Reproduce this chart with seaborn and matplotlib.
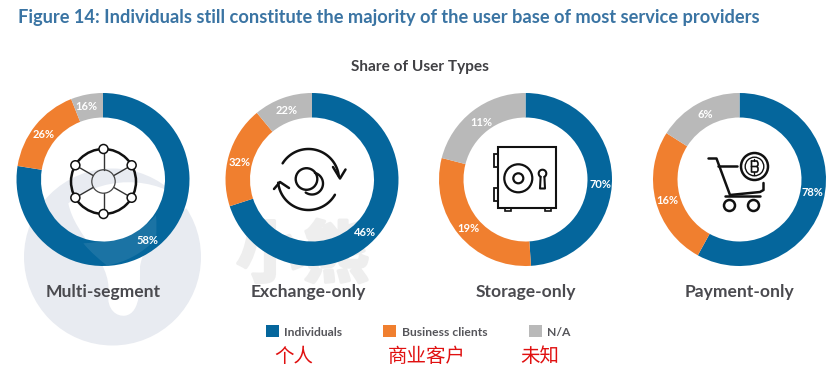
import numpy as np
import matplotlib
matplotlib.use("Agg")
import matplotlib.pyplot as plt
import matplotlib.patheffects as pe
from matplotlib.patches import Circle, Rectangle, PathPatch
from matplotlib.path import Path
import seaborn as sns

# ---- data: categories, drawn shares (as the rings actually appear), printed labels
categories = ["Multi-segment", "Exchange-only", "Storage-only", "Payment-only"]
series_names = ["Individuals", "Business clients", "N/A"]
series_names_zh = ["个人", "商业客户", "未知"]
individuals = [77.5, 70, 49, 58]
business = [16.5, 19, 30, 26]
na_share = [6, 11, 21, 16]
label_individuals = ["58%", "46%", "70%", "78%"]
label_business = ["26%", "32%", "19%", "16%"]
label_na = ["16%", "22%", "11%", "6%"]
title_text = "Figure 14: Individuals still constitute the majority of the user base of most service providers"
subtitle_text = "Share of User Types"

W, H = 835, 371
BLUE, ORANGE, GREY = "#05669c", "#f07f2f", "#b9b9b9"
INK = "#111111"

sns.set_theme(style="white")
plt.rcParams["font.family"] = ["Lato", "Noto Sans CJK SC", "DejaVu Sans"]
palette = sns.color_palette([BLUE, ORANGE, GREY])

fig = plt.figure(figsize=(W / 100, H / 100), dpi=100, facecolor="white")
ax = fig.add_axes([0, 0, 1, 1])


def Y(y):
    return H - y


def line(pts, lw=1.7, color=INK, z=6):
    xs, ys = zip(*pts)
    ax.plot(xs, [Y(v) for v in ys], color=color, lw=lw, solid_capstyle="round",
            solid_joinstyle="round", zorder=z)


def ring(cx, cy, r, lw=1.7, fc="none", ec=INK, z=6):
    ax.add_patch(Circle((cx, Y(cy)), r, fc=fc, ec=ec, lw=lw, zorder=z))


def arc(cx, cy, r, a0, a1, lw=1.7):
    t = np.radians(np.linspace(a0, a1, 60))
    line(list(zip(cx + r * np.cos(t), cy - r * np.sin(t))), lw=lw)


def blob(pts, fc, alpha=1.0, z=1):
    p = [(x, Y(y)) for x, y in pts]
    codes = [Path.MOVETO] + [Path.CURVE4] * (len(p) - 1)
    ax.add_patch(PathPatch(Path(p, codes), fc=fc, ec="none", alpha=alpha, zorder=z))


def z7(x, y):
    return (x / 3, 160 + y / 3)


# ---- watermark behind the rings
ax.add_patch(Circle((112.5, Y(257)), 88.5, fc="#e8ebf1", ec="none", zorder=0))
blob([z7(205, 130), z7(225, 230), z7(335, 300), z7(325, 400),
      z7(320, 450), z7(350, 470), z7(375, 467),
      z7(425, 460), z7(420, 370), z7(420, 320),
      z7(430, 250), z7(500, 170), z7(570, 140),
      z7(500, 60), z7(330, 30), z7(205, 130)], "white", z=1)
ax.text(303, Y(257), "小熊", fontsize=48, color="#eeeeee", ha="center", va="center",
        family=["Noto Sans CJK SC"], fontweight="bold", zorder=0.5,
        path_effects=[pe.withStroke(linewidth=2.5, foreground="#eeeeee")])

# ---- rings
centers_x = [103, 312, 525.5, 739.5]
center_y = 179.5
R, WIDTH = 86.5, 24.5
for i, cx in enumerate(centers_x):
    ax.pie([individuals[i], business[i], na_share[i]], colors=palette,
           center=(cx, Y(center_y)), radius=R, startangle=90, counterclock=False,
           wedgeprops=dict(width=WIDTH, linewidth=0), frame=True)

# lighter watermark band over first ring
blob([z7(250, 250), z7(275, 280), z7(300, 300), z7(320, 316),
      z7(370, 310), z7(430, 280), z7(468, 235),
      z7(470, 210), z7(470, 190), z7(468, 165),
      z7(430, 215), z7(340, 245), z7(250, 250)], "white", alpha=0.09, z=3)

# ---- printed percentage labels
label_xy_ind = [(147, 240), (365, 232), (600, 184), (812, 193)]
label_xy_bus = [(44, 135), (240, 162), (468, 228), (667, 201)]
label_xy_na = [(86, 107), (287, 111), (481, 123), (705, 115)]
for labels, xy in [(label_individuals, label_xy_ind), (label_business, label_xy_bus),
                   (label_na, label_xy_na)]:
    for s, (x, y) in zip(labels, xy):
        ax.text(x, Y(y), s, color="white", fontsize=8, fontweight="bold",
                ha="center", va="center", zorder=7)

# ---- category names
for name, x in zip(categories, [103, 308, 525.5, 739]):
    ax.text(x, Y(292), name, color="#4a4a4f", fontsize=12.6, fontweight="bold",
            ha="center", va="center", zorder=7)

# ---- titles
ax.text(18, Y(18), title_text, color="#3a74a3", fontsize=13.13, fontweight="bold",
        ha="left", va="center", zorder=7)
ax.text(420, Y(67), subtitle_text, color="#404044", fontsize=11.1, fontweight="bold",
        ha="center", va="center", zorder=7)

# ---- icon: network
icx, icy = 103.5, 181.5
ring(icx, icy, 32.5, lw=1.8, fc="none")
node_angles = [90, 30, -30, -90, -150, 150]
for a in node_angles:
    t = np.radians(a)
    x, y = icx + 32.5 * np.cos(t), icy - 32.5 * np.sin(t)
    x0, y0 = icx + 11.7 * np.cos(t), icy - 11.7 * np.sin(t)
    line([(x0, y0), (x, y)], lw=1.0, color="#333333")
    ring(x, y, 4.5, lw=1.1, fc="white", z=7)
ring(icx, icy, 11.7, lw=0.9, fc="none", ec="#444444")

# ---- icon: exchange arrows
ex, ey = 308.5, 179.5
arc(ex, ey, 30.5, 6, 148, lw=1.8)
arc(ex, ey, 30.5, 186, 330, lw=1.8)
line([(333, 167), (340, 178.5), (345.5, 169.5)], lw=1.8)
line([(274, 189), (280, 182), (289, 188)], lw=1.8)
ring(306.5, 179, 10.8, lw=1.7)
arc(312, 183.5, 11, -125, 75, lw=1.7)

# ---- icon: safe
ax.add_patch(Rectangle((497.7, Y(207.7)), 58.3, 60.4, fc="none", ec=INK, lw=1.5, zorder=6))
for y0 in (154, 188):
    ax.add_patch(Rectangle((493.7, Y(y0 + 13)), 4, 13, fc="none", ec=INK, lw=1.3, zorder=6))
for x0 in (504.5, 545):
    ax.add_patch(Rectangle((x0, Y(211)), 6, 3.3, fc="none", ec=INK, lw=1.2, zorder=6))
ring(518.3, 178.3, 14, lw=1.6)
ring(518.3, 178.3, 5, lw=1.6)
arc(542.5, 173.5, 3.8, -60, 240, lw=1.5)
line([(540.6, 176.8), (540, 188.5), (545, 188.5), (544.4, 176.8)], lw=1.5)

# ---- icon: cart and coin
line([(708.5, 158.5), (716.5, 158.5), (730, 195), (760, 192), (763.5, 190), (763.5, 183)], lw=1.8)
line([(718, 166), (737, 166)], lw=1.8)
line([(725, 196), (760, 196)], lw=1.8)
ring(729.5, 205.5, 5.5, lw=1.8)
ring(753.5, 205.5, 5.5, lw=1.8)
ring(754.5, 166.5, 13.5, lw=1.8)
ring(754.5, 166.5, 9.3, lw=1.0)
line([(751.5, 161), (757, 161), (758, 163), (758, 165), (757, 166.5), (751.5, 166.5)], lw=1.2)
line([(757, 166.5), (758, 168), (758, 170.5), (757, 172), (751.5, 172), (751.5, 161)], lw=1.2)
line([(753.5, 158.5), (753.5, 161)], lw=1.0)
line([(753.5, 172), (753.5, 174.5)], lw=1.0)

# ---- legend
sq_x = [266, 383, 529]
txt_x = [284, 402, 547]
zh_x = [294, 427, 540]
for j, name in enumerate(series_names):
    ax.add_patch(Rectangle((sq_x[j], Y(337)), 13, 12, fc=palette[j], ec="none", zorder=7))
    ax.text(txt_x[j], Y(332), name, color="#55555a", fontsize=8.7, fontweight="bold",
            ha="left", va="center", zorder=7)
    ax.text(zh_x[j], Y(357), series_names_zh[j], color="#e01010", fontsize=14,
            family=["Noto Sans CJK SC"], ha="center", va="center", zorder=7)

ax.set_xlim(0, W)
ax.set_ylim(0, H)
ax.set_aspect("equal")
ax.axis("off")
fig.savefig("out.png", dpi=100, facecolor="white")
